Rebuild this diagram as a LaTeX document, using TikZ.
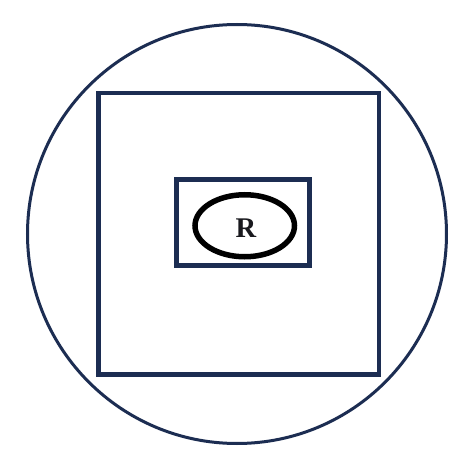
\documentclass[tikz,border=0pt]{standalone}
\usepackage{fontspec}
\setmainfont{Liberation Serif}
\definecolor{navy}{RGB}{28,45,82}
\definecolor{textblack}{RGB}{25,25,30}
\tikzset{
  navyline/.style={draw=navy},
  ringline/.style={draw=black}
}
\begin{document}
\begin{tikzpicture}[x=1pt,y=-1pt]
\useasboundingbox (0,0) rectangle (467,460);
\fill[white] (0,0) rectangle (467,460);
\node[navyline, line width=3pt, circle, minimum size=419pt, inner sep=0pt] (outer) at (237,234) {};
\node[navyline, line width=4.5pt, rectangle, minimum width=280.5pt, minimum height=281.5pt, inner sep=0pt] (square) at (238.75,233.75) {};
\node[navyline, line width=5pt, rectangle, minimum width=133pt, minimum height=85.5pt, inner sep=0pt] (box) at (243,222.75) {};
\draw[ringline, line width=5.5pt] (244.75,225.75) ellipse [x radius=49.75pt, y radius=31pt];
\node[text=textblack, font=\fontsize{28.5}{30}\selectfont\bfseries, inner sep=0pt] (R) at (246,228.5) {R};
\end{tikzpicture}
\end{document}
